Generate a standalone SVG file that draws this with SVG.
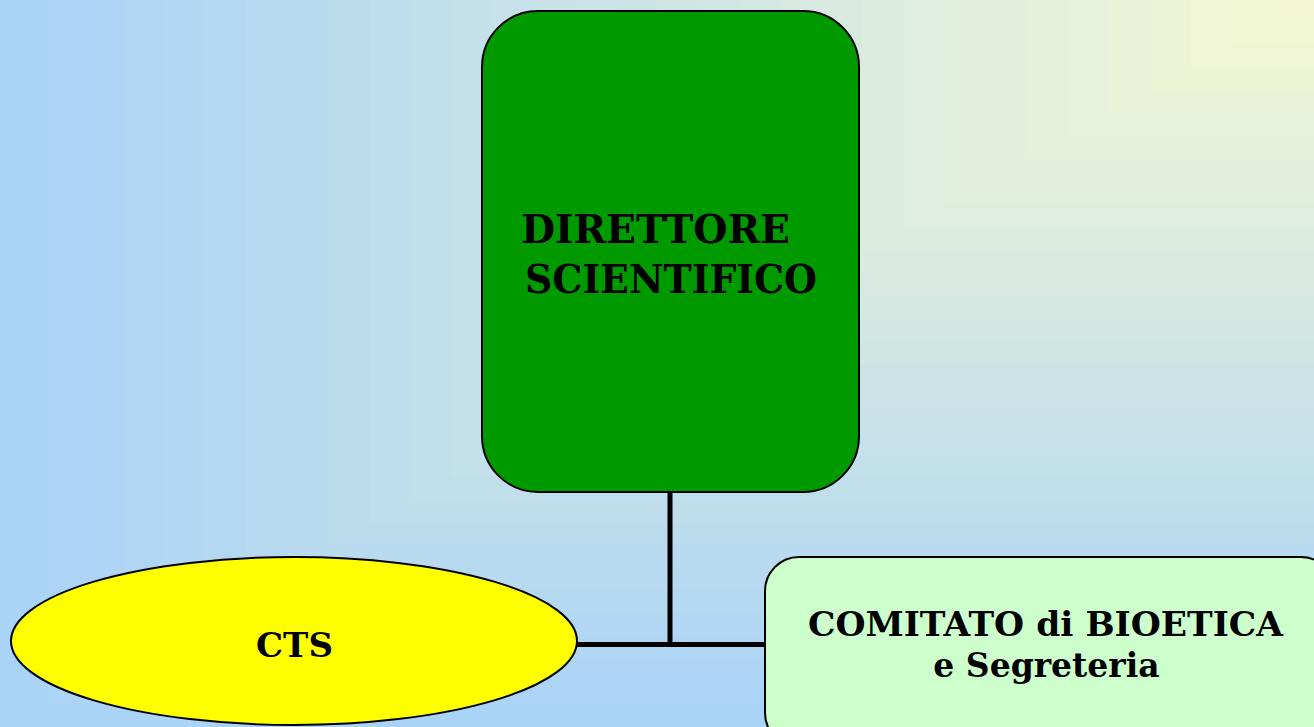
<svg xmlns="http://www.w3.org/2000/svg" width="1314" height="727" viewBox="0 0 1314 727">
  <defs>
    <style>
      .node { stroke: #000; stroke-width: 2; }
      .label { font-family: "DejaVu Serif", "Liberation Serif", serif; font-weight: bold; fill: #000; }
      .wire { stroke: #000; stroke-width: 5; fill: none; }
    </style>
  </defs>

  <!-- background: rectangular gradient from pale yellow (top-right corner) to light blue -->
  <g id="background">
    <rect x="0" y="0" width="1314" height="727" fill="rgb(169,211,247)"/>
    <rect x="41.06" y="0" width="1272.94" height="704.28" fill="rgb(172,212,246)"/>
    <rect x="82.13" y="0" width="1231.88" height="681.56" fill="rgb(174,213,245)"/>
    <rect x="123.19" y="0" width="1190.81" height="658.84" fill="rgb(176,214,244)"/>
    <rect x="164.25" y="0" width="1149.75" height="636.13" fill="rgb(179,215,243)"/>
    <rect x="205.31" y="0" width="1108.69" height="613.41" fill="rgb(181,216,241)"/>
    <rect x="246.38" y="0" width="1067.63" height="590.69" fill="rgb(184,218,240)"/>
    <rect x="287.44" y="0" width="1026.56" height="567.97" fill="rgb(186,219,239)"/>
    <rect x="328.5" y="0" width="985.5" height="545.25" fill="rgb(188,220,238)"/>
    <rect x="369.56" y="0" width="944.44" height="522.53" fill="rgb(191,221,237)"/>
    <rect x="410.63" y="0" width="903.38" height="499.81" fill="rgb(193,222,235)"/>
    <rect x="451.69" y="0" width="862.31" height="477.09" fill="rgb(196,224,234)"/>
    <rect x="492.75" y="0" width="821.25" height="454.38" fill="rgb(198,225,233)"/>
    <rect x="533.81" y="0" width="780.19" height="431.66" fill="rgb(200,226,232)"/>
    <rect x="574.88" y="0" width="739.13" height="408.94" fill="rgb(203,227,231)"/>
    <rect x="615.94" y="0" width="698.06" height="386.22" fill="rgb(205,228,230)"/>
    <rect x="657" y="0" width="657" height="363.5" fill="rgb(208,230,228)"/>
    <rect x="698.06" y="0" width="615.94" height="340.78" fill="rgb(210,231,227)"/>
    <rect x="739.13" y="0" width="574.88" height="318.06" fill="rgb(212,232,226)"/>
    <rect x="780.19" y="0" width="533.81" height="295.34" fill="rgb(215,233,225)"/>
    <rect x="821.25" y="0" width="492.75" height="272.63" fill="rgb(217,234,224)"/>
    <rect x="862.31" y="0" width="451.69" height="249.91" fill="rgb(220,236,222)"/>
    <rect x="903.38" y="0" width="410.63" height="227.19" fill="rgb(222,237,221)"/>
    <rect x="944.44" y="0" width="369.56" height="204.47" fill="rgb(225,238,220)"/>
    <rect x="985.5" y="0" width="328.5" height="181.75" fill="rgb(227,239,219)"/>
    <rect x="1026.56" y="0" width="287.44" height="159.03" fill="rgb(229,240,218)"/>
    <rect x="1067.63" y="0" width="246.38" height="136.31" fill="rgb(232,241,217)"/>
    <rect x="1108.69" y="0" width="205.31" height="113.59" fill="rgb(234,243,215)"/>
    <rect x="1149.75" y="0" width="164.25" height="90.88" fill="rgb(237,244,214)"/>
    <rect x="1190.81" y="0" width="123.19" height="68.16" fill="rgb(239,245,213)"/>
    <rect x="1231.88" y="0" width="82.13" height="45.44" fill="rgb(241,246,212)"/>
    <rect x="1272.94" y="0" width="41.06" height="22.72" fill="rgb(244,247,211)"/>
  </g>

  <!-- connectors -->
  <g id="connectors">
    <line class="wire" x1="670" y1="492" x2="670" y2="647"/>
    <line class="wire" x1="576" y1="644.5" x2="765" y2="644.5"/>
  </g>

  <g id="direttore">
    <rect class="node" x="482" y="11" width="377" height="481" rx="56" ry="56" fill="#009900"/>
    <text class="label" font-size="40" x="521" y="243" textLength="269" lengthAdjust="spacingAndGlyphs">DIRETTORE</text>
    <text class="label" font-size="40" x="525" y="293" textLength="292" lengthAdjust="spacingAndGlyphs">SCIENTIFICO</text>
  </g>

  <g id="cts">
    <ellipse class="node" cx="294" cy="641" rx="283" ry="84" fill="#FFFF00"/>
    <text class="label" font-size="34" x="294.5" y="657" text-anchor="middle">CTS</text>
  </g>

  <g id="comitato">
    <rect class="node" x="765" y="557" width="570" height="190" rx="34" ry="34" fill="#CCFFCC"/>
    <text class="label" font-size="33" x="1045.5" y="636" text-anchor="middle" textLength="475" lengthAdjust="spacingAndGlyphs">COMITATO di BIOETICA</text>
    <text class="label" font-size="33" x="1046.5" y="677" text-anchor="middle">e Segreteria</text>
  </g>
</svg>
